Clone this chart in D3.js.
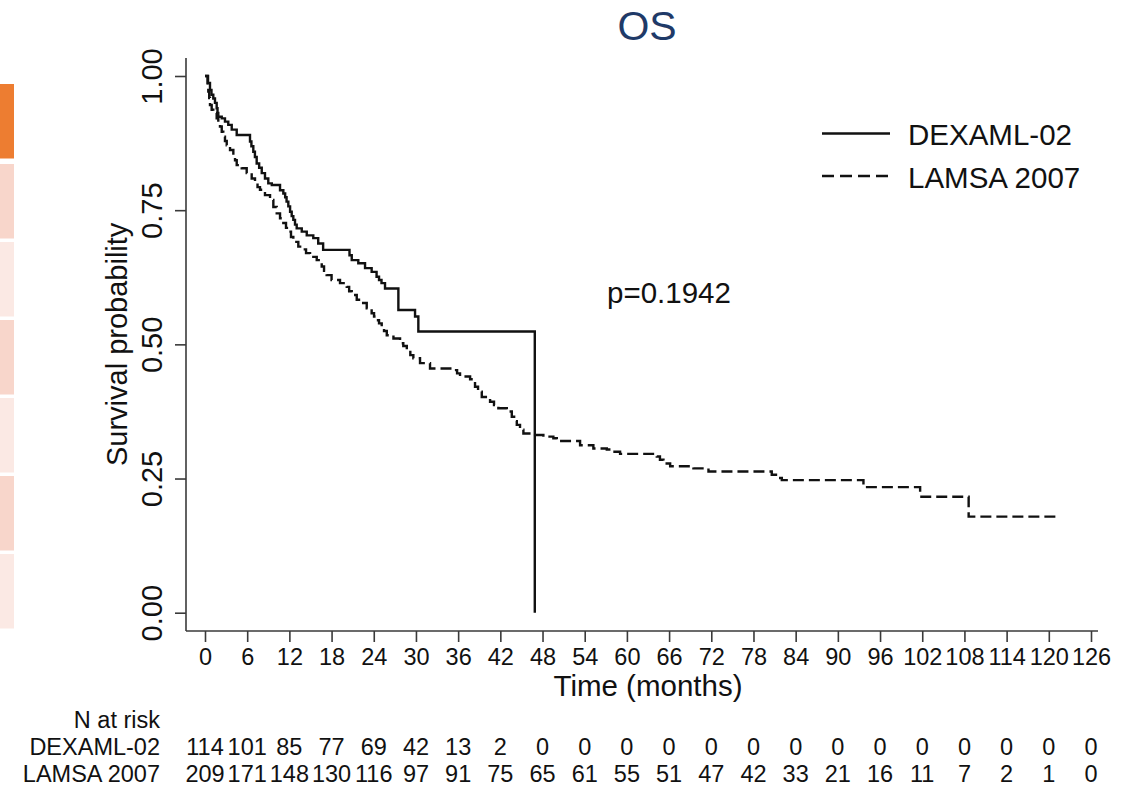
<!DOCTYPE html>
<html>
<head>
<meta charset="utf-8">
<script src="https://cdn.jsdelivr.net/npm/d3@7"></script>
<style>
  html, body { margin: 0; padding: 0; background: #fff; }
  svg { display: block; font-family: "Liberation Sans", Arial, sans-serif; }
</style>
</head>
<body>
<svg id="chart" width="1135" height="786"></svg>
<script>
// Kaplan-Meier step estimates: time of each drop (months) and survival after it
const dexTimes = [0, 0.43, 0.71, 0.92, 1.18, 1.42, 1.66, 1.78, 1.89, 2.38, 2.84, 3.31, 3.80, 4.51,
  6.4, 6.6, 6.87, 7.1, 7.35, 7.7, 8.07, 8.53, 9.0, 9.5, 10.67, 11.14, 11.4, 11.6, 11.85, 12.1,
  12.33, 12.56, 12.8, 13.04, 13.76, 14.47, 15.4, 16.1, 16.8, 20.55, 20.87, 21.8, 22.76, 23.7,
  24.4, 24.75, 25.1, 25.6, 27.5, 29.87, 30.34, 46.9];
const dexSurv = [1.0, 0.987, 0.974, 0.965, 0.958, 0.950, 0.940, 0.931, 0.924, 0.921, 0.915, 0.909, 0.900, 0.890,
  0.878, 0.869, 0.859, 0.849, 0.837, 0.829, 0.819, 0.809, 0.800, 0.797, 0.787, 0.781, 0.774, 0.766, 0.757, 0.747,
  0.739, 0.732, 0.723, 0.716, 0.710, 0.703, 0.698, 0.688, 0.676, 0.666, 0.657, 0.651, 0.642, 0.635,
  0.626, 0.620, 0.614, 0.604, 0.564, 0.552, 0.524, 0.0];

const lamsaTimes = [0, 0.36, 0.47, 0.6, 0.71, 0.95, 1.18, 1.66, 1.89, 2.13, 2.38, 2.6, 2.84, 3.09, 3.56,
  4.03, 4.27, 4.51, 5.22, 5.93, 6.64, 7.11, 7.47, 7.82, 8.53, 9.25, 9.72, 10.2, 10.67, 11.14, 11.52,
  11.85, 12.23, 12.56, 13.27, 13.98, 14.37, 14.94, 15.89, 16.6, 16.93, 17.3, 18.0, 19.2, 20.16, 20.5,
  20.87, 21.58, 22.3, 23.0, 23.7, 24.04, 24.42, 24.75, 25.13, 25.46, 25.85, 26.8, 27.74, 28.2, 28.7,
  29.2, 29.63, 30.58, 32.0, 35.3, 35.85, 36.27, 37.7, 38.4, 38.83, 39.36, 40.54, 41.1, 41.72, 42.92,
  43.63, 43.96, 44.34, 44.8, 45.28, 46.7, 48.12, 49.54, 50.03, 53.34, 55.23, 57.14, 57.85, 59.03,
  64.25, 64.7, 65.2, 66.15, 69.46, 71.6, 80.6, 81.2, 82.03, 93.64, 101.7, 108.6, 121.5];
const lamsaSurv = [1.0, 0.983, 0.971, 0.959, 0.946, 0.937, 0.931, 0.921, 0.913, 0.906, 0.896, 0.887, 0.879, 0.871, 0.862,
  0.853, 0.843, 0.834, 0.828, 0.819, 0.809, 0.800, 0.793, 0.788, 0.778, 0.769, 0.756, 0.744, 0.735, 0.726, 0.717,
  0.710, 0.700, 0.691, 0.682, 0.677, 0.670, 0.663, 0.657, 0.645, 0.637, 0.629, 0.620, 0.614, 0.607, 0.599,
  0.592, 0.583, 0.577, 0.567, 0.558, 0.552, 0.545, 0.539, 0.533, 0.525, 0.517, 0.511, 0.502, 0.497, 0.486,
  0.480, 0.474, 0.465, 0.455, 0.452, 0.446, 0.440, 0.435, 0.421, 0.412, 0.402, 0.393, 0.387, 0.381, 0.375,
  0.365, 0.357, 0.350, 0.341, 0.334, 0.331, 0.328, 0.325, 0.320, 0.312, 0.306, 0.304, 0.300, 0.296,
  0.291, 0.285, 0.278, 0.273, 0.269, 0.263, 0.257, 0.251, 0.247, 0.234, 0.216, 0.179, 0.179];

const groups = ["DEXAML-02", "LAMSA 2007"];
const xTickValues = d3.range(0, 127, 6);
const yTickValues = [0, 0.25, 0.5, 0.75, 1];
const riskDex = [114, 101, 85, 77, 69, 42, 13, 2, 0, 0, 0, 0, 0, 0, 0, 0, 0, 0, 0, 0, 0, 0];
const riskLamsa = [209, 171, 148, 130, 116, 97, 91, 75, 65, 61, 55, 51, 47, 42, 33, 21, 16, 11, 7, 2, 1, 0];
const pLabel = "p=0.1942";
const sideBarColors = ["#ed7d31", "#f8d6cb", "#fbe9e4", "#f8d6cb", "#fbe9e4", "#f8d6cb", "#fbe9e4"];

const svg = d3.select("#chart");

// slide side bars
const barTop = 84, barH = 75.5, barGap = 2.5;
svg.append("g").selectAll("rect").data(sideBarColors).join("rect")
  .attr("x", 0).attr("width", 14)
  .attr("y", (d, i) => barTop + i * (barH + barGap) + (i > 0 ? 2 : 0))
  .attr("height", barH - 1)
  .attr("fill", d => d);

// plot frame
const frame = { left: 186, right: 1098, top: 58, bottom: 631 };
const x = d3.scaleLinear().domain([0, 126]).range([205, 1091]);
const y = d3.scaleLinear().domain([0, 1]).range([612.7, 76]);

const axisColor = "#3a3a3a";
svg.append("line").attr("x1", frame.left).attr("x2", frame.left).attr("y1", frame.top).attr("y2", frame.bottom)
  .attr("stroke", axisColor).attr("stroke-width", 1.6);
svg.append("line").attr("x1", frame.left).attr("x2", frame.right).attr("y1", frame.bottom).attr("y2", frame.bottom)
  .attr("stroke", axisColor).attr("stroke-width", 1.6);

// x axis
const xAxis = svg.append("g").attr("transform", `translate(0,${frame.bottom})`)
  .call(d3.axisBottom(x).tickValues(xTickValues).tickSize(11).tickPadding(10).tickFormat(d3.format("d")));
xAxis.select(".domain").remove();
xAxis.selectAll(".tick line").attr("stroke", axisColor).attr("stroke-width", 1.6);
xAxis.selectAll(".tick text").attr("font-size", 23.5).attr("fill", "#111")
  .attr("font-family", "Liberation Sans, Arial, sans-serif")
  .attr("dy", null).attr("y", 34);

// y axis
const yAxis = svg.append("g").attr("transform", `translate(${frame.left},0)`)
  .call(d3.axisLeft(y).tickValues(yTickValues).tickSize(11).tickFormat(d3.format(".2f")));
yAxis.select(".domain").remove();
yAxis.selectAll(".tick line").attr("stroke", axisColor).attr("stroke-width", 1.6);
yAxis.selectAll(".tick text")
  .attr("font-size", 29).attr("fill", "#111")
  .attr("font-family", "Liberation Sans, Arial, sans-serif")
  .attr("x", null).attr("dy", null)
  .attr("text-anchor", "middle")
  .attr("transform", "translate(-24,0) rotate(-90)");

// axis titles
svg.append("text").attr("x", 648).attr("y", 696).attr("text-anchor", "middle")
  .attr("font-size", 29.5).attr("fill", "#111").text("Time (months)");
svg.append("text").attr("transform", `translate(127,${y(0.5)}) rotate(-90)`)
  .attr("text-anchor", "middle").attr("font-size", 29).attr("fill", "#111").text("Survival probability");

// title
svg.append("text").attr("x", 647).attr("y", 40).attr("text-anchor", "middle")
  .attr("font-size", 41).attr("fill", "#1f3a68").text("OS");

// survival curves
const series = [
  { name: groups[0], times: dexTimes, surv: dexSurv, dash: null },
  { name: groups[1], times: lamsaTimes, surv: lamsaSurv, dash: "11,5" }
];
const line = d3.line().x(d => x(d[0])).y(d => y(d[1])).curve(d3.curveStepAfter);
svg.append("g").selectAll("path").data(series).join("path")
  .attr("d", s => line(s.times.map((t, i) => [t, s.surv[i]])))
  .attr("fill", "none").attr("stroke", "#111").attr("stroke-width", 2.4)
  .attr("stroke-dasharray", s => s.dash);

// legend
const legend = svg.append("g");
series.forEach((s, i) => {
  const ly = 133.5 + i * 42.5;
  legend.append("line").attr("x1", 822).attr("x2", 890).attr("y1", ly).attr("y2", ly)
    .attr("stroke", "#111").attr("stroke-width", 2.4)
    .attr("stroke-dasharray", s.dash ? "12,6" : null);
  legend.append("text").attr("x", 908).attr("y", ly + 11.5).attr("font-size", 29.5)
    .attr("fill", "#111").text(s.name);
});

// p-value
svg.append("text").attr("x", 607).attr("y", 303).attr("font-size", 29.5).attr("fill", "#111").text(pLabel);

// number at risk table
const risk = svg.append("g").attr("font-size", 23.5).attr("fill", "#111");
risk.append("text").attr("x", 160).attr("y", 728).attr("text-anchor", "end").text("N at risk");
[riskDex, riskLamsa].forEach((row, r) => {
  const ry = 755 + r * 27;
  risk.append("text").attr("x", 160).attr("y", ry).attr("text-anchor", "end").text(groups[r]);
  risk.append("g").selectAll("text").data(row).join("text")
    .attr("x", (d, i) => x(xTickValues[i])).attr("y", ry)
    .attr("text-anchor", "middle").text(d => d);
});
</script>
</body>
</html>
